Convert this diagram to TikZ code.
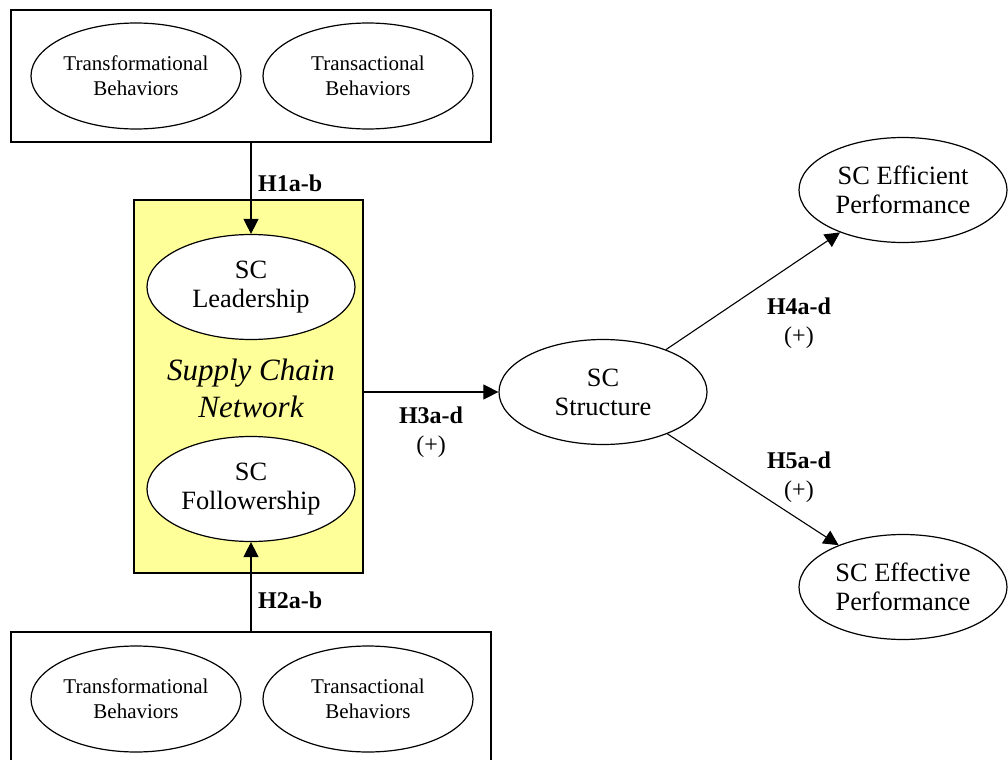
\documentclass[tikz,border=0pt]{standalone}
\usepackage{fontspec}
\setmainfont{Liberation Serif}
\usetikzlibrary{shapes.geometric}
\usetikzlibrary{arrows.meta}
\definecolor{paleyellow}{HTML}{FFFF99}

\begin{document}
\begin{tikzpicture}[x=0.5pt, y=-0.5pt]
		\tikzstyle{bigbox} = [draw, line width = 0.7pt, shape = rectangle, inner sep = 0pt, minimum width = 240pt]
		\tikzstyle{smallnode} = [draw, fill = white, line width = 0.6pt, shape = ellipse, inner sep = 0pt, minimum width = 105pt, minimum height = 53pt, align = center, font = \fontsize{10.5}{12.3}\selectfont]
		\tikzstyle{roundnode} = [smallnode, minimum width = 104pt, minimum height = 52.5pt, font = \fontsize{13.2}{14.5}\selectfont]
		\tikzstyle{hyp} = [align = center, font = \fontsize{12}{14.5}\selectfont]
		\tikzstyle{arr} = [-{Triangle[length = 7.5pt, width = 7.5pt]}, line width = 0.55pt]

		\useasboundingbox (0, 0) rectangle (1008, 760);
		\clip (0, 0) rectangle (1008, 760);

	% Cajas
		\node[bigbox, minimum height = 66pt] (topbox) at (251, 76) {};
		\node[bigbox, fill = paleyellow, minimum width = 114.5pt, minimum height = 186.5pt] (scn) at (248.5, 386.5) {};
		\node[bigbox, minimum height = 68pt] (botbox) at (251, 700) {};

	% Nodos
		\node[smallnode] (transf1) at (136, 76) {Transformational\\Behaviors};
		\node[smallnode] (transa1) at (368, 76) {Transactional\\Behaviors};
		\node[smallnode] (transf2) at (136, 699) {Transformational\\Behaviors};
		\node[smallnode] (transa2) at (368, 699) {Transactional\\Behaviors};

		\node[roundnode] (lead) at (251, 287) {SC\\Leadership};
		\node[align = center, font = \fontsize{15.5}{18.5}\selectfont\itshape] (scntext) at (251, 388) {Supply Chain\\Network};
		\node[roundnode] (follow) at (251, 489) {SC\\Followership};

		\node[roundnode] (struct) at (603, 392) {SC\\Structure};
		\node[roundnode] (effic) at (903, 190) {SC Efficient\\Performance};
		\node[roundnode] (effec) at (903, 587) {SC Effective\\Performance};

	% Enlaces
		\draw[arr] (topbox.south) -- (lead.north) node[pos = 0.45, right, hyp] {\textbf{H1a-b}};
		\draw[arr] (botbox.north) -- (follow.south) node[pos = 0.35, right, hyp] {\textbf{H2a-b}};
		\draw[arr] (scn.east |- struct) -- (struct.west) node[midway, below = 4pt, hyp] {\textbf{H3a-d}\\(+)};
		\draw[arr] (struct) -- (effic);
		\draw[arr] (struct) -- (effec);

		\node[hyp] (h4) at (799, 323) {\textbf{H4a-d}\\(+)};
		\node[hyp] (h5) at (799, 477) {\textbf{H5a-d}\\(+)};

	\end{tikzpicture}
\end{document}
